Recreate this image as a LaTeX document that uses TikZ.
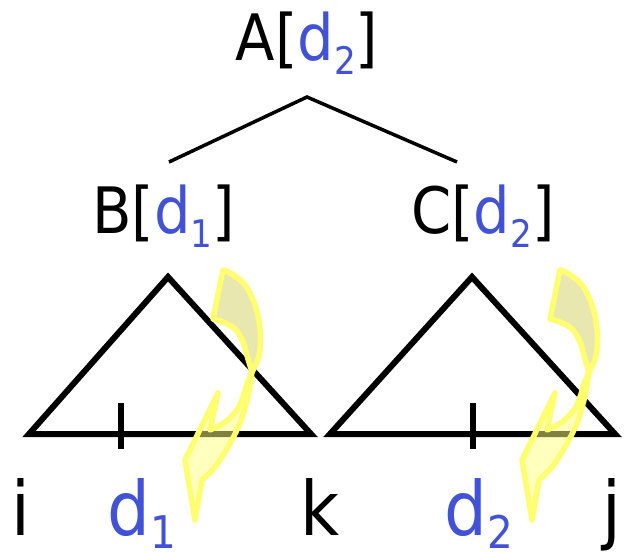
\documentclass[tikz,border=0pt]{standalone}
\usepackage{fontspec}
\setmainfont{DejaVu Sans}[FakeStretch=0.9]
\definecolor{dblue}{RGB}{66,82,214}
\definecolor{hlstroke}{RGB}{255,255,112}
\definecolor{hldark}{RGB}{208,208,96}
\definecolor{hllight}{RGB}{255,255,126}
\newcommand{\toplab}[2]{\fontsize{64pt}{70pt}\selectfont #1[\textcolor{dblue}{d\raisebox{-14pt}{\fontsize{38pt}{40pt}\selectfont #2}}]}
\newcommand{\botlab}[1]{\fontsize{75pt}{80pt}\selectfont\textcolor{dblue}{d\raisebox{-13pt}{\fontsize{45pt}{50pt}\selectfont #1}}}
\newcommand{\hlarrow}{%
  \filldraw[hlband, fill=hldark]
    plot[smooth, tension=0.6] coordinates {(223,270) (231,273.5) (245,285) (255,305) (260,329) (260,349) (257,362) (252,372)}
    -- plot[smooth, tension=0.6] coordinates {(252,372) (248,359) (243,342) (235,329) (223,322) (213,319)}
    -- cycle;
  \filldraw[hlband, fill=hllight]
    plot[smooth, tension=0.6] coordinates {(252,372) (250,385) (247,400) (240,423) (228,447) (215,467) (202,480)}
    -- (195,520) -- (185,460) -- (218,393) -- (210,430)
    -- plot[smooth, tension=0.6] coordinates {(210,430) (225,422) (237,410) (243,397) (247,384) (252,372)}
    -- cycle;
}
\begin{document}
\begin{tikzpicture}[x=1pt, y=-1pt,
  lab/.style={inner sep=0pt, anchor=base},
  edge/.style={line width=3.5pt, line cap=butt},
  tri/.style={line width=6pt, line join=miter},
  tick/.style={line width=6pt},
  hlband/.style={draw=hlstroke, line width=5.5pt, line join=round, fill opacity=0.5}]
\useasboundingbox (0,0) rectangle (627,552);

% labels
\node[lab] (A) at (307,60) {\toplab{A}{2}};
\node[lab] (B) at (163.5,233) {\toplab{B}{1}};
\node[lab] (C) at (483,233) {\toplab{C}{2}};

% tree edges
\coordinate (apex) at (307,97);
\coordinate (bend) at (169,162);
\coordinate (cend) at (457,162);
\draw[edge] (bend) -- (apex) -- (cend);

% triangles
\coordinate (t1l) at (29,434);
\coordinate (t1a) at (168,277);
\coordinate (t1r) at (311,434);
\coordinate (t2l) at (330,434);
\coordinate (t2a) at (472,277);
\coordinate (t2r) at (615,434);
\draw[tri] (t1l) -- (t1a) -- (t1r) -- cycle;
\draw[tri] (t2l) -- (t2a) -- (t2r) -- cycle;

% ticks
\coordinate (k1t) at (121,403);
\coordinate (k1b) at (121,449);
\coordinate (k2t) at (473,403);
\coordinate (k2b) at (473,449);
\draw[tick] (k1t) -- (k1b);
\draw[tick] (k2t) -- (k2b);

% bottom labels
\node[lab] (i) at (21,535) {\fontsize{75pt}{80pt}\selectfont i};
\node[lab] (d1) at (141.5,535) {\botlab{1}};
\node[lab] (k) at (320,535) {\fontsize{75pt}{80pt}\selectfont k};
\node[lab] (d2) at (478.5,535) {\botlab{2}};
\node[lab] (j) at (612,535) {\fontsize{75pt}{80pt}\selectfont j};

% highlight arrows
\hlarrow
\begin{scope}[xshift=337pt]
\hlarrow
\end{scope}
\end{tikzpicture}
\end{document}
